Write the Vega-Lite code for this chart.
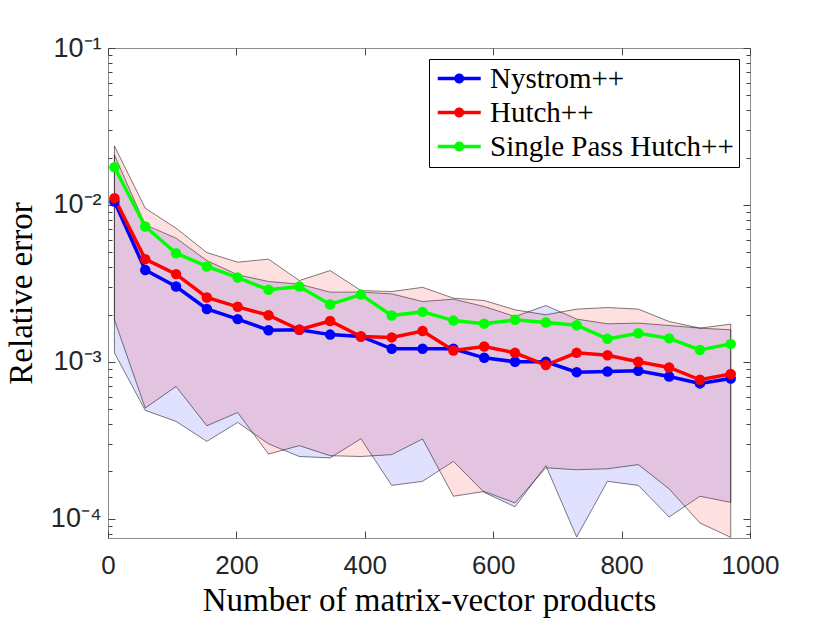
{
  "$schema": "https://vega.github.io/schema/vega-lite/v6.json",
  "width": 642,
  "height": 490,
  "autosize": "none",
  "padding": {"left": 108, "top": 48, "right": 80, "bottom": 85},
  "background": "white",
  "config": {
    "view": {"stroke": "#8c8c8c", "strokeWidth": 1},
    "axis": {
      "grid": false,
      "domain": false,
      "tickColor": "#444",
      "tickWidth": 1,
      "labelFont": "Liberation Sans",
      "labelFontSize": 26,
      "labelColor": "#262626",
      "titleFont": "Liberation Serif",
      "titleFontSize": 33,
      "titleFontWeight": "normal",
      "titleColor": "#000",
      "labelOverlap": false,
      "labelFlush": false,
      "labelBound": false
    }
  },
  "data": {
    "values": [
      {"x": 10, "m": "Nystrom++", "e": 0.0105, "lo": 0.001141, "hi": 0.02082},
      {"x": 58, "m": "Nystrom++", "e": 0.00385, "lo": 0.00049, "hi": 0.007459},
      {"x": 106, "m": "Nystrom++", "e": 0.00302, "lo": 0.000417, "hi": 0.006136},
      {"x": 154, "m": "Nystrom++", "e": 0.00217, "lo": 0.000311, "hi": 0.004418},
      {"x": 202, "m": "Nystrom++", "e": 0.00187, "lo": 0.000411, "hi": 0.003582},
      {"x": 250, "m": "Nystrom++", "e": 0.00159, "lo": 0.0003, "hi": 0.003248},
      {"x": 298, "m": "Nystrom++", "e": 0.0016, "lo": 0.000249, "hi": 0.003126},
      {"x": 346, "m": "Nystrom++", "e": 0.00149, "lo": 0.000244, "hi": 0.002779},
      {"x": 394, "m": "Nystrom++", "e": 0.00145, "lo": 0.000323, "hi": 0.002779},
      {"x": 442, "m": "Nystrom++", "e": 0.00121, "lo": 0.000163, "hi": 0.00271},
      {"x": 490, "m": "Nystrom++", "e": 0.00121, "lo": 0.000173, "hi": 0.002421},
      {"x": 538, "m": "Nystrom++", "e": 0.00121, "lo": 0.000232, "hi": 0.002507},
      {"x": 586, "m": "Nystrom++", "e": 0.00106, "lo": 0.000147, "hi": 0.00225},
      {"x": 634, "m": "Nystrom++", "e": 0.001, "lo": 0.000119, "hi": 0.001943},
      {"x": 682, "m": "Nystrom++", "e": 0.001, "lo": 0.000218, "hi": 0.002284},
      {"x": 730, "m": "Nystrom++", "e": 0.000859, "lo": 0.0000764, "hi": 0.001871},
      {"x": 778, "m": "Nystrom++", "e": 0.000866, "lo": 0.000173, "hi": 0.001746},
      {"x": 826, "m": "Nystrom++", "e": 0.000877, "lo": 0.000163, "hi": 0.001764},
      {"x": 874, "m": "Nystrom++", "e": 0.000806, "lo": 0.0001025, "hi": 0.001703},
      {"x": 922, "m": "Nystrom++", "e": 0.000728, "lo": 0.000139, "hi": 0.001639},
      {"x": 970, "m": "Nystrom++", "e": 0.000783, "lo": 0.000127, "hi": 0.001599},
      {"x": 10, "m": "Hutch++", "e": 0.01104, "lo": 0.001851, "hi": 0.02375},
      {"x": 58, "m": "Hutch++", "e": 0.00451, "lo": 0.000507, "hi": 0.009528},
      {"x": 106, "m": "Hutch++", "e": 0.00362, "lo": 0.000696, "hi": 0.007107},
      {"x": 154, "m": "Hutch++", "e": 0.00257, "lo": 0.000391, "hi": 0.004967},
      {"x": 202, "m": "Hutch++", "e": 0.00224, "lo": 0.000475, "hi": 0.004315},
      {"x": 250, "m": "Hutch++", "e": 0.00198, "lo": 0.000258, "hi": 0.004509},
      {"x": 298, "m": "Hutch++", "e": 0.0016, "lo": 0.000292, "hi": 0.003295},
      {"x": 346, "m": "Hutch++", "e": 0.00182, "lo": 0.000252, "hi": 0.003815},
      {"x": 394, "m": "Hutch++", "e": 0.00145, "lo": 0.000249, "hi": 0.002845},
      {"x": 442, "m": "Hutch++", "e": 0.00143, "lo": 0.000256, "hi": 0.002804},
      {"x": 490, "m": "Hutch++", "e": 0.00157, "lo": 0.000322, "hi": 0.002982},
      {"x": 538, "m": "Hutch++", "e": 0.00118, "lo": 0.000139, "hi": 0.002544},
      {"x": 586, "m": "Hutch++", "e": 0.00125, "lo": 0.000149, "hi": 0.002457},
      {"x": 634, "m": "Hutch++", "e": 0.00114, "lo": 0.000126, "hi": 0.002144},
      {"x": 682, "m": "Hutch++", "e": 0.000953, "lo": 0.000211, "hi": 0.001992},
      {"x": 730, "m": "Hutch++", "e": 0.00114, "lo": 0.000205, "hi": 0.002166},
      {"x": 778, "m": "Hutch++", "e": 0.0011, "lo": 0.000208, "hi": 0.002217},
      {"x": 826, "m": "Hutch++", "e": 0.001, "lo": 0.000221, "hi": 0.002166},
      {"x": 874, "m": "Hutch++", "e": 0.00092, "lo": 0.000155, "hi": 0.001806},
      {"x": 922, "m": "Hutch++", "e": 0.000768, "lo": 0.0000939, "hi": 0.001639},
      {"x": 970, "m": "Hutch++", "e": 0.000835, "lo": 0.000076, "hi": 0.001738},
      {"x": 10, "m": "Single Pass Hutch++", "e": 0.01738},
      {"x": 58, "m": "Single Pass Hutch++", "e": 0.00728},
      {"x": 106, "m": "Single Pass Hutch++", "e": 0.00492},
      {"x": 154, "m": "Single Pass Hutch++", "e": 0.00405},
      {"x": 202, "m": "Single Pass Hutch++", "e": 0.00344},
      {"x": 250, "m": "Single Pass Hutch++", "e": 0.00288},
      {"x": 298, "m": "Single Pass Hutch++", "e": 0.00302},
      {"x": 346, "m": "Single Pass Hutch++", "e": 0.00232},
      {"x": 394, "m": "Single Pass Hutch++", "e": 0.00268},
      {"x": 442, "m": "Single Pass Hutch++", "e": 0.00197},
      {"x": 490, "m": "Single Pass Hutch++", "e": 0.00208},
      {"x": 538, "m": "Single Pass Hutch++", "e": 0.00183},
      {"x": 586, "m": "Single Pass Hutch++", "e": 0.00175},
      {"x": 634, "m": "Single Pass Hutch++", "e": 0.00185},
      {"x": 682, "m": "Single Pass Hutch++", "e": 0.00178},
      {"x": 730, "m": "Single Pass Hutch++", "e": 0.00171},
      {"x": 778, "m": "Single Pass Hutch++", "e": 0.0014},
      {"x": 826, "m": "Single Pass Hutch++", "e": 0.00152},
      {"x": 874, "m": "Single Pass Hutch++", "e": 0.00141},
      {"x": 922, "m": "Single Pass Hutch++", "e": 0.00119},
      {"x": 970, "m": "Single Pass Hutch++", "e": 0.0013}
    ]
  },
  "layer": [
    {
      "transform": [{"filter": "isValid(datum.lo)"}],
      "mark": {"type": "area", "stroke": "#000", "strokeWidth": 0.6, "strokeOpacity": 0.85, "fillOpacity": 0.12, "clip": true},
      "encoding": {
        "x": {
          "field": "x", "type": "quantitative",
          "scale": {"domain": [0, 1000], "nice": false},
          "axis": {
            "orient": "bottom",
            "values": [0, 200, 400, 600, 800, 1000],
            "format": "d",
            "tickSize": -7,
            "labelPadding": 21,
            "title": "Number of matrix-vector products",
            "titlePadding": 6
          }
        },
        "y": {
          "field": "lo", "type": "quantitative",
          "scale": {"type": "log", "domain": [0.0000753, 0.1], "nice": false},
          "axis": {
            "orient": "left",
            "values": [0.00008, 0.00009, 0.0001, 0.0002, 0.0003, 0.0004, 0.0005, 0.0006, 0.0007, 0.0008, 0.0009, 0.001, 0.002, 0.003, 0.004, 0.005, 0.006, 0.007, 0.008, 0.009, 0.01, 0.02, 0.03, 0.04, 0.05, 0.06, 0.07, 0.08, 0.09, 0.1],
            "tickSize": {"condition": {"test": "datum.value == 0.1 || datum.value == 0.01 || datum.value == 0.001 || datum.value == 0.0001", "value": -7}, "value": -4},
            "labelPadding": 14,
            "labelFontSize": 27,
            "labelExpr": "datum.value == 0.1 ? '10⁻¹' : datum.value == 0.01 ? '10⁻²' : datum.value == 0.001 ? '10⁻³' : datum.value == 0.0001 ? '10⁻⁴' : ''",
            "title": "Relative error",
            "titlePadding": 12
          }
        },
        "y2": {"field": "hi"},
        "color": {
          "field": "m", "type": "nominal",
          "scale": {"domain": ["Nystrom++", "Hutch++"], "range": ["#0000ff", "#ff0000"]},
          "legend": null
        }
      }
    },
    {
      "mark": {"type": "line", "strokeWidth": 3.5, "clip": true},
      "encoding": {
        "x": {
          "field": "x", "type": "quantitative",
          "scale": {"domain": [0, 1000], "nice": false},
          "axis": {"orient": "top", "values": [0, 200, 400, 600, 800, 1000], "tickSize": -7, "labels": false, "title": null}
        },
        "y": {
          "field": "e", "type": "quantitative",
          "scale": {"type": "log", "domain": [0.0000753, 0.1], "nice": false},
          "axis": {
            "orient": "right",
            "values": [0.00008, 0.00009, 0.0001, 0.0002, 0.0003, 0.0004, 0.0005, 0.0006, 0.0007, 0.0008, 0.0009, 0.001, 0.002, 0.003, 0.004, 0.005, 0.006, 0.007, 0.008, 0.009, 0.01, 0.02, 0.03, 0.04, 0.05, 0.06, 0.07, 0.08, 0.09, 0.1],
            "tickSize": {"condition": {"test": "datum.value == 0.1 || datum.value == 0.01 || datum.value == 0.001 || datum.value == 0.0001", "value": -7}, "value": -4},
            "labels": false,
            "title": null
          }
        },
        "stroke": {
          "field": "m", "type": "nominal",
          "scale": {"domain": ["Single Pass Hutch++", "Hutch++", "Nystrom++"], "range": ["#00ff00", "#ff0000", "#0000ff"]},
          "legend": null
        }
      }
    },
    {
      "mark": {"type": "point", "filled": true, "size": 110, "opacity": 1, "clip": true},
      "encoding": {
        "x": {"field": "x", "type": "quantitative", "scale": {"domain": [0, 1000], "nice": false}, "axis": null},
        "y": {"field": "e", "type": "quantitative", "scale": {"type": "log", "domain": [0.0000753, 0.1], "nice": false}, "axis": null},
        "fill": {
          "field": "m", "type": "nominal",
          "scale": {"domain": ["Nystrom++", "Hutch++", "Single Pass Hutch++"], "range": ["#0000ff", "#ff0000", "#00ff00"]},
          "legend": {
            "title": null,
            "orient": "top-right",
            "offset": 11,
            "strokeColor": "#000",
            "fillColor": "#fff",
            "padding": 5,
            "symbolType": "M-1,-0.163H3V0.163H-1Z M0.535,0A0.465,0.465 0 1,1 1.465,0A0.465,0.465 0 1,1 0.535,0Z",
            "symbolSize": 462,
            "symbolStrokeWidth": 0,
            "symbolOpacity": 1,
            "labelFont": "Liberation Serif",
            "labelFontSize": 29,
            "labelColor": "#000",
            "labelOffset": 27,
            "labelLimit": 400,
            "rowPadding": 4
          }
        }
      }
    }
  ],
  "resolve": {"axis": {"x": "independent", "y": "independent"}}
}
